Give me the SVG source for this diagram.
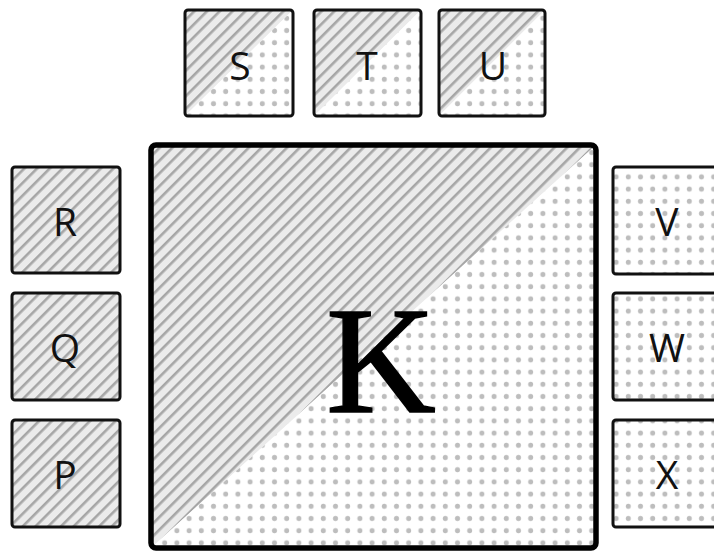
<svg xmlns="http://www.w3.org/2000/svg" width="714" height="552" viewBox="0 0 714 552">
<defs>
<pattern id="hatch" patternUnits="userSpaceOnUse" width="9" height="9" patternTransform="rotate(45)">
<rect width="9" height="9" fill="#ebebeb"/>
<rect x="0" y="0" width="2.6" height="9" fill="#a6a6a6"/>
</pattern>
<pattern id="dots" patternUnits="userSpaceOnUse" width="12.2" height="12.2">
<rect width="12.2" height="12.2" fill="#ffffff"/>
<circle cx="6.1" cy="6.1" r="2.5" fill="#bdbdbd"/>
</pattern>
</defs>
<style>
.box{stroke:#111;stroke-width:3;fill:none}
.big{stroke:#000;stroke-width:5.5;fill:none}
.lbl{font-family:"Open Sans","Noto Sans","Liberation Sans",sans-serif;font-size:39px;fill:#111;text-anchor:middle;dominant-baseline:central}
.klbl{font-family:"Liberation Serif","DejaVu Serif",serif;font-size:152px;fill:#000;text-anchor:middle;stroke:#000;stroke-width:1.5}
</style>
<rect width="714" height="552" fill="#ffffff"/>

<g id="K">
<polygon points="151,145 596,145 151,548" fill="url(#hatch)"/>
<polygon points="596,145 596,548 151,548" fill="url(#dots)"/>
<rect class="big" x="151" y="145" width="445" height="403" rx="5"/>
<text class="klbl" x="381" y="412">K</text>
</g>

<g id="S">
<polygon points="185,10 293,10 185,116" fill="url(#hatch)"/>
<polygon points="293,10 293,116 185,116" fill="url(#dots)"/>
<rect class="box" x="185" y="10" width="108" height="106" rx="3"/>
<text class="lbl" x="240" y="64">S</text>
</g>
<g id="T">
<polygon points="314,10 421,10 314,116" fill="url(#hatch)"/>
<polygon points="421,10 421,116 314,116" fill="url(#dots)"/>
<rect class="box" x="314" y="10" width="107" height="106" rx="3"/>
<text class="lbl" x="367" y="64">T</text>
</g>
<g id="U">
<polygon points="439,10 545,10 439,116" fill="url(#hatch)"/>
<polygon points="545,10 545,116 439,116" fill="url(#dots)"/>
<rect class="box" x="439" y="10" width="106" height="106" rx="3"/>
<text class="lbl" x="493" y="64">U</text>
</g>

<g id="R">
<rect x="12" y="167" width="108" height="106" rx="3" fill="url(#hatch)"/>
<rect class="box" x="12" y="167" width="108" height="106" rx="3"/>
<text class="lbl" x="65" y="220">R</text>
</g>
<g id="Q">
<rect x="12" y="293" width="108" height="107" rx="3" fill="url(#hatch)"/>
<rect class="box" x="12" y="293" width="108" height="107" rx="3"/>
<text class="lbl" x="65" y="346">Q</text>
</g>
<g id="P">
<rect x="12" y="420" width="108" height="107" rx="3" fill="url(#hatch)"/>
<rect class="box" x="12" y="420" width="108" height="107" rx="3"/>
<text class="lbl" x="65" y="473">P</text>
</g>

<g id="V">
<rect x="613" y="167" width="110" height="107" rx="3" fill="url(#dots)"/>
<rect class="box" x="613" y="167" width="110" height="107" rx="3"/>
<text class="lbl" x="667" y="220">V</text>
</g>
<g id="W">
<rect x="613" y="293" width="110" height="107" rx="3" fill="url(#dots)"/>
<rect class="box" x="613" y="293" width="110" height="107" rx="3"/>
<text class="lbl" x="667" y="346">W</text>
</g>
<g id="X">
<rect x="613" y="420" width="110" height="107" rx="3" fill="url(#dots)"/>
<rect class="box" x="613" y="420" width="110" height="107" rx="3"/>
<text class="lbl" x="667" y="473">X</text>
</g>
<g id="connectors"/>
</svg>
